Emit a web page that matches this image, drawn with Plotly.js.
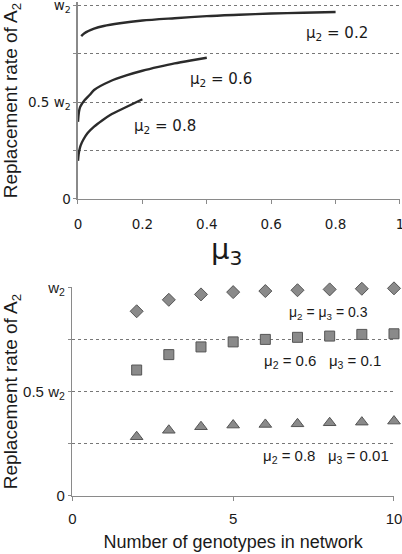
<!DOCTYPE html>
<html><head><meta charset="utf-8">
<script src="https://cdn.plot.ly/plotly-3.0.1.min.js"></script>
<style>html,body{margin:0;padding:0;background:#fff}#c{width:402px;height:554px}</style>
</head><body><div id="c"></div>
<script>
// Top panel: replacement rate vs mu3 for three mu2 values
const mu3_a = [0.01, 0.02, 0.05, 0.08, 0.13, 0.2, 0.3, 0.4, 0.5, 0.6, 0.7, 0.8];
const rate_a = [0.840, 0.855, 0.878, 0.892, 0.906, 0.920, 0.932, 0.943, 0.950, 0.956, 0.960, 0.964];
const mu3_b = [0, 0.003, 0.007, 0.021, 0.036, 0.05, 0.1, 0.15, 0.2, 0.25, 0.3, 0.35, 0.4];
const rate_b = [0.398, 0.45, 0.476, 0.51, 0.536, 0.562, 0.607, 0.637, 0.661, 0.681, 0.699, 0.714, 0.728];
const mu3_c = [0, 0.002, 0.004, 0.008, 0.016, 0.03, 0.05, 0.075, 0.1, 0.15, 0.2];
const rate_c = [0.197, 0.23, 0.25, 0.275, 0.304, 0.34, 0.373, 0.405, 0.433, 0.474, 0.514];
const topLabels = ["μ<sub>2</sub> = 0.2", "μ<sub>2</sub> = 0.6", "μ<sub>2</sub> = 0.8"];

// Bottom panel: replacement rate vs number of genotypes
const genotypes = [2, 3, 4, 5, 6, 7, 8, 9, 10];
const rate_d = [0.885, 0.940, 0.966, 0.977, 0.982, 0.986, 0.990, 0.993, 0.995];
const rate_s = [0.603, 0.677, 0.714, 0.738, 0.750, 0.760, 0.766, 0.774, 0.777];
const rate_t = [0.283, 0.314, 0.331, 0.339, 0.342, 0.345, 0.350, 0.353, 0.358];
const botLabels = ["μ<sub>2</sub> = μ<sub>3</sub> = 0.3", "μ<sub>2</sub> = 0.6\u00a0\u00a0\u00a0μ<sub>3</sub> = 0.1", "μ<sub>2</sub> = 0.8\u00a0\u00a0\u00a0μ<sub>3</sub> = 0.01"];

const yTickVals = [0, 0.25, 0.5, 0.75, 1];
const yTickText = ["0", "", "0.5 w<sub>2</sub>", "", "w<sub>2</sub>"];
const topXTicks = [0, 0.2, 0.4, 0.6, 0.8, 1];
const botXTicks = [0, 5, 10];

const lineStyle = {color: '#2b2b2b', width: 2.4, shape: 'spline', smoothing: 0.8};
const mk = (sym, sz) => ({symbol: sym, size: sz, color: '#8a8a8a', line: {color: '#555', width: 1}});

const traces = [
  {x: mu3_a, y: rate_a, mode: 'lines', line: lineStyle, xaxis: 'x', yaxis: 'y'},
  {x: mu3_b, y: rate_b, mode: 'lines', line: lineStyle, xaxis: 'x', yaxis: 'y'},
  {x: mu3_c, y: rate_c, mode: 'lines', line: lineStyle, xaxis: 'x', yaxis: 'y'},
  {x: genotypes, y: rate_d, mode: 'markers', marker: mk('diamond', 10), xaxis: 'x2', yaxis: 'y2', cliponaxis: false},
  {x: genotypes, y: rate_s, mode: 'markers', marker: mk('square', 10), xaxis: 'x2', yaxis: 'y2', cliponaxis: false},
  {x: genotypes, y: rate_t, mode: 'markers', marker: mk('triangle-up', 11), xaxis: 'x2', yaxis: 'y2', cliponaxis: false}
];

const axBase = {showline: true, linecolor: '#8a8a8a', linewidth: 1.5, ticks: 'outside', ticklen: 3, tickcolor: '#8a8a8a', zeroline: false, fixedrange: true, automargin: false, ticklabeloverflow: 'allow'};
const ink = '#1a1a1a';

const layout = {
  width: 402, height: 554, margin: {l: 0, r: 0, t: 0, b: 0},
  paper_bgcolor: '#fff', plot_bgcolor: '#fff', showlegend: false,
  xaxis: Object.assign({}, axBase, {domain: [0.194, 0.995], range: [0, 1], tickvals: topXTicks, ticktext: topXTicks.map(String), showgrid: false, ticklen: 4, ticklabelstandoff: 8,
    tickfont: {family: 'DejaVu Sans', size: 13.5, color: ink}, anchor: 'y'}),
  yaxis: Object.assign({}, axBase, {domain: [0.6408, 0.9962], range: [0, 1.015], tickvals: yTickVals, ticktext: yTickText, showgrid: true, gridcolor: '#777', griddash: 'dot', gridwidth: 1,
    tickfont: {family: 'DejaVu Sans', size: 13.5, color: ink}, anchor: 'x',
    title: {text: 'Replacement rate of A<sub>2</sub>', font: {family: 'Liberation Sans', size: 19, color: ink}, standoff: 7}}),
  xaxis2: Object.assign({}, axBase, {domain: [0.1799, 0.9801], range: [0, 10], tickvals: botXTicks, ticktext: botXTicks.map(String), showgrid: false, ticklen: 4, ticklabelstandoff: 5,
    tickfont: {family: 'Liberation Sans', size: 15, color: ink}, anchor: 'y2',
    title: {text: 'Number of genotypes in network', font: {family: 'Liberation Sans', size: 18, color: ink}, standoff: 9}}),
  yaxis2: Object.assign({}, axBase, {domain: [0.1052, 0.4814], range: [0, 1], tickvals: yTickVals, ticktext: yTickText, showgrid: true, gridcolor: '#777', griddash: 'dot', gridwidth: 1,
    tickfont: {family: 'Liberation Sans', size: 15, color: ink}, anchor: 'x2',
    title: {text: 'Replacement rate of A<sub>2</sub>', font: {family: 'Liberation Sans', size: 19, color: ink}, standoff: 14}}),
  annotations: [
    {xref: 'paper', yref: 'paper', x: 226 / 402, y: 1 - 251 / 554, text: 'μ<sub>3</sub>', font: {family: 'DejaVu Sans', size: 29, color: ink}},
    {xref: 'x', yref: 'y', x: 0.805, y: 0.855, text: topLabels[0]},
    {xref: 'x', yref: 'y', x: 0.445, y: 0.615, text: topLabels[1]},
    {xref: 'x', yref: 'y', x: 0.27, y: 0.375, text: topLabels[2]},
  ].map(a => Object.assign({showarrow: false, font: {family: 'DejaVu Sans', size: 15, color: ink}}, a))
  .concat([
    {xref: 'x2', yref: 'y2', x: 7.95, y: 0.878, text: botLabels[0], font: {family: 'Liberation Sans', size: 14, color: ink}},
    {xref: 'x2', yref: 'y2', x: 7.78, y: 0.642, text: botLabels[1]},
    {xref: 'x2', yref: 'y2', x: 7.9, y: 0.19, text: botLabels[2]},
  ].map(a => Object.assign({showarrow: false, font: {family: 'Liberation Sans', size: 15, color: ink}}, a)))
};

Plotly.newPlot('c', traces, layout, {staticPlot: true, displayModeBar: false});
</script></body></html>
